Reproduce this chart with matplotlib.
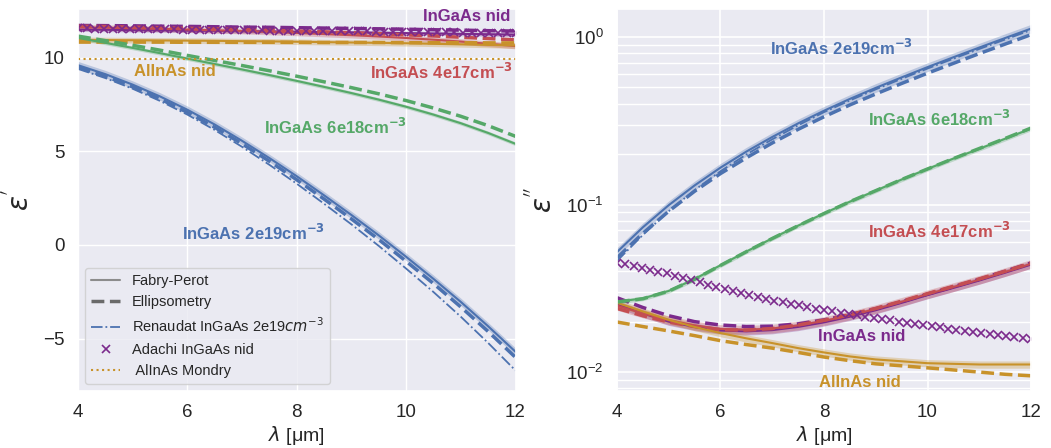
import matplotlib
matplotlib.use('Agg')

import matplotlib.pyplot as plt
import seaborn as sns
from matplotlib.lines import Line2D

# wavelength grid of the curves (um)
lam = [4.0, 4.5, 5.0, 5.5, 6.0, 6.5, 7.0, 7.5, 8.0, 8.5, 9.0, 9.5, 10.0, 10.5, 11.0, 11.5, 12.0]

# ---- real part eps' ----
re_nid_fp = [11.5, 11.49, 11.47, 11.46, 11.44, 11.43, 11.41, 11.4, 11.38, 11.36, 11.35, 11.33, 11.31, 11.29, 11.27, 11.25, 11.23]
re_nid_el = [11.72, 11.71, 11.7, 11.68, 11.67, 11.65, 11.63, 11.62, 11.6, 11.58, 11.56, 11.54, 11.52, 11.49, 11.47, 11.44, 11.42]
re_4e17_fp = [11.62, 11.6, 11.57, 11.54, 11.5, 11.46, 11.42, 11.37, 11.32, 11.26, 11.2, 11.13, 11.05, 10.96, 10.86, 10.74, 10.62]
re_4e17_el = [11.68, 11.66, 11.63, 11.6, 11.57, 11.54, 11.5, 11.46, 11.42, 11.38, 11.33, 11.28, 11.22, 11.16, 11.09, 11.02, 10.95]
re_6e18_fp = [11.05, 10.79, 10.52, 10.24, 9.95, 9.66, 9.37, 9.07, 8.76, 8.44, 8.11, 7.76, 7.38, 6.96, 6.5, 5.98, 5.4]
re_6e18_el = [11.15, 10.91, 10.66, 10.4, 10.12, 9.85, 9.58, 9.3, 9.01, 8.71, 8.4, 8.07, 7.71, 7.31, 6.87, 6.37, 5.8]
re_2e19_fp = [9.6, 9.12, 8.56, 7.93, 7.22, 6.43, 5.56, 4.64, 3.67, 2.65, 1.6, 0.51, -0.63, -1.81, -3.04, -4.34, -5.7]
re_2e19_el = [9.5, 9.01, 8.44, 7.8, 7.08, 6.28, 5.4, 4.47, 3.48, 2.45, 1.39, 0.29, -0.87, -2.06, -3.31, -4.62, -6.0]
re_2e19_ren = [9.4, 8.91, 8.34, 7.69, 6.96, 6.14, 5.24, 4.28, 3.27, 2.2, 1.1, -0.05, -1.26, -2.51, -3.83, -5.23, -6.7]
re_alinas_fp = [10.95, 10.94, 10.93, 10.92, 10.91, 10.9, 10.88, 10.87, 10.85, 10.83, 10.81, 10.79, 10.77, 10.74, 10.71, 10.68, 10.65]
re_alinas_el = [10.83, 10.83, 10.83, 10.83, 10.82, 10.82, 10.82, 10.82, 10.82, 10.81, 10.81, 10.81, 10.8, 10.8, 10.8, 10.79, 10.79]
mondry_lam = [4.0, 12.0]
mondry_re = [9.95, 9.95]

# ---- imaginary part eps'' ----
im_nid_fp = [0.0255, 0.0224, 0.0200, 0.0186, 0.0177, 0.0175, 0.0178, 0.0186, 0.0198, 0.0214, 0.0234, 0.0259, 0.0288, 0.0318, 0.0352, 0.0392, 0.0438]
im_nid_el = [0.0278, 0.0243, 0.0217, 0.0200, 0.0191, 0.0187, 0.0188, 0.0194, 0.0205, 0.0220, 0.0239, 0.0263, 0.0292, 0.0323, 0.0358, 0.0400, 0.0448]
im_4e17_fp = [0.0249, 0.0224, 0.0204, 0.0190, 0.0181, 0.0179, 0.0182, 0.0190, 0.0202, 0.0218, 0.0238, 0.0263, 0.0292, 0.0322, 0.0356, 0.0396, 0.0443]
im_4e17_el = [0.0240, 0.0217, 0.0199, 0.0187, 0.0179, 0.0178, 0.0182, 0.0191, 0.0204, 0.0220, 0.0240, 0.0265, 0.0294, 0.0325, 0.0360, 0.0400, 0.0447]
im_6e18_fp = [0.0263, 0.0275, 0.0305, 0.0359, 0.0434, 0.0524, 0.0628, 0.0748, 0.0885, 0.104, 0.121, 0.141, 0.163, 0.188, 0.215, 0.247, 0.284]
im_6e18_el = [0.0262, 0.0274, 0.0304, 0.0358, 0.0433, 0.0523, 0.0627, 0.0747, 0.0884, 0.104, 0.121, 0.141, 0.163, 0.188, 0.216, 0.248, 0.286]
im_2e19_fp = [0.052, 0.0731, 0.0991, 0.130, 0.166, 0.207, 0.253, 0.305, 0.363, 0.427, 0.497, 0.574, 0.661, 0.757, 0.865, 0.986, 1.122]
im_2e19_el = [0.048, 0.0673, 0.0912, 0.120, 0.153, 0.190, 0.233, 0.281, 0.334, 0.393, 0.457, 0.528, 0.608, 0.696, 0.796, 0.907, 1.032]
im_2e19_ren = [0.046, 0.0658, 0.0912, 0.122, 0.158, 0.199, 0.245, 0.297, 0.356, 0.418, 0.487, 0.563, 0.648, 0.742, 0.848, 0.966, 1.10]
im_alinas_fp = [0.0259, 0.0230, 0.0205, 0.0186, 0.0171, 0.0159, 0.0149, 0.0139, 0.0131, 0.0124, 0.0119, 0.0116, 0.0113, 0.0112, 0.0111, 0.0111, 0.0111]
im_alinas_el = [0.0199, 0.0187, 0.0176, 0.0165, 0.0154, 0.0146, 0.0139, 0.0131, 0.0123, 0.0117, 0.0112, 0.0109, 0.0106, 0.0103, 0.0100, 0.0097, 0.0095]

# ---- Adachi InGaAs nid model points ----
adachi_lam = [4.00, 4.16, 4.32, 4.48, 4.64, 4.80, 4.96, 5.12, 5.28, 5.44, 5.60, 5.76, 5.92,
              6.08, 6.24, 6.40, 6.56, 6.72, 6.88, 7.04, 7.20, 7.36, 7.52, 7.68, 7.84, 8.00,
              8.16, 8.32, 8.48, 8.64, 8.80, 8.96, 9.12, 9.28, 9.44, 9.60, 9.76, 9.92,
              10.08, 10.24, 10.40, 10.56, 10.72, 10.88, 11.04, 11.20, 11.36, 11.52, 11.68, 11.84, 12.00]
adachi_re = [11.56, 11.56, 11.55, 11.55, 11.54, 11.54, 11.53, 11.53, 11.52, 11.52, 11.51, 11.51, 11.50,
             11.50, 11.49, 11.49, 11.48, 11.48, 11.47, 11.47, 11.46, 11.46, 11.45, 11.45, 11.44, 11.44,
             11.43, 11.43, 11.42, 11.42, 11.41, 11.41, 11.40, 11.40, 11.39, 11.39, 11.38, 11.38,
             11.37, 11.37, 11.36, 11.36, 11.35, 11.35, 11.34, 11.34, 11.33, 11.33, 11.32, 11.32, 11.31]
adachi_im = [0.0450, 0.0439, 0.0428, 0.0418, 0.0408, 0.0398, 0.0388, 0.0376, 0.0365, 0.0354, 0.0343, 0.0332, 0.0322,
             0.0314, 0.0305, 0.0297, 0.0289, 0.0281, 0.0274, 0.0267, 0.0261, 0.0256, 0.0250, 0.0245, 0.0239, 0.0234,
             0.0230, 0.0226, 0.0222, 0.0218, 0.0214, 0.0211, 0.0207, 0.0204, 0.0200, 0.0197, 0.0194, 0.0190,
             0.0188, 0.0185, 0.0182, 0.0179, 0.0177, 0.0174, 0.0171, 0.0169, 0.0166, 0.0164, 0.0162, 0.0160, 0.0158]

PURPLE = '#7b2a8c'
RED = '#c44e52'
GREEN = '#55a868'
BLUE = '#4c72b0'
GOLD = '#c8922a'

sns.set_theme(style='darkgrid')
plt.rcParams['font.family'] = ['Liberation Sans', 'DejaVu Sans']
plt.rcParams['mathtext.fontset'] = 'dejavusans'

fig = plt.figure(figsize=(10.51, 4.48), dpi=100)
ax1 = fig.add_axes([0.0742, 0.127, 0.4163, 0.853])
ax2 = fig.add_axes([0.587, 0.127, 0.394, 0.853])

# (color, fabry-perot, ellipsometry, band) for each sample
re_sets = [
    (PURPLE, re_nid_fp, re_nid_el, 0.10),
    (RED, re_4e17_fp, re_4e17_el, 0.15),
    (GOLD, re_alinas_fp, re_alinas_el, 0.15),
    (GREEN, re_6e18_fp, re_6e18_el, 0.10),
    (BLUE, re_2e19_fp, re_2e19_el, 0.20),
]
im_sets = [
    (PURPLE, im_nid_fp, im_nid_el, 0.05),
    (RED, im_4e17_fp, im_4e17_el, 0.06),
    (GOLD, im_alinas_fp, im_alinas_el, 0.05),
    (GREEN, im_6e18_fp, im_6e18_el, 0.03),
    (BLUE, im_2e19_fp, im_2e19_el, 0.06),
]

for color, fp, el, band in re_sets:
    ax1.fill_between(lam, [v - band for v in fp], [v + band for v in fp], color=color, alpha=0.3, lw=0)
    ax1.plot(lam, fp, '-', color=color, lw=1.5)
    ax1.plot(lam, el, '--', color=color, lw=2.5)
ax1.plot(lam, re_2e19_ren, '-.', color=BLUE, lw=1.3)
ax1.plot(adachi_lam, adachi_re, 'x', color=PURPLE, ms=6, mew=1.2)
ax1.plot(mondry_lam, mondry_re, ':', color=GOLD, lw=1.5)

for color, fp, el, band in im_sets:
    ax2.fill_between(lam, [v * (1 - band) for v in fp], [v * (1 + band) for v in fp], color=color, alpha=0.3, lw=0)
    ax2.plot(lam, fp, '-', color=color, lw=1.5)
    ax2.plot(lam, el, '--', color=color, lw=2.5)
ax2.plot(lam, im_2e19_ren, '-.', color=BLUE, lw=1.3)
ax2.plot(adachi_lam, adachi_im, 'x', color=PURPLE, ms=6, mew=1.2)

ax1.set_xlim(4, 12)
ax1.set_ylim(-7.8, 12.6)
ax1.set_yticks([-5, 0, 5, 10])
ax2.set_xlim(4, 12)
ax2.set_yscale('log')
ax2.set_ylim(0.0077, 1.47)
ax2.grid(True, which='minor', color='white', lw=1.0)
ax2.grid(True, which='major', color='white', lw=1.2)

for ax in (ax1, ax2):
    ax.set_xticks([4, 6, 8, 10, 12])
    ax.tick_params(labelsize=13.5)
    ax.set_xlabel(r'$\lambda$ [μm]', fontsize=14, labelpad=2)
ax2.tick_params(axis='y', which='minor', left=False, labelleft=False)
ax1.set_ylabel(r"$\epsilon^{'}$", fontsize=20)
ax2.set_ylabel(r"$\epsilon^{''}$", fontsize=20)
ax1.yaxis.set_label_coords(-0.1, 0.5)
ax2.yaxis.set_label_coords(-0.145, 0.5)

tk = dict(fontsize=12, fontweight='bold', va='center')
ax1.text(11.9, 12.19, 'InGaAs nid', color=PURPLE, ha='right', **tk)
ax1.text(11.95, 9.25, r'InGaAs 4e17cm$^{\mathbf{-3}}$', color=RED, ha='right', **tk)
ax1.text(5.78, 9.25, 'AlInAs nid', color=GOLD, ha='center', **tk)
ax1.text(8.71, 6.31, r'InGaAs 6e18cm$^{\mathbf{-3}}$', color=GREEN, ha='center', **tk)
ax1.text(7.2, 0.64, r'InGaAs 2e19cm$^{\mathbf{-3}}$', color=BLUE, ha='center', **tk)

ax2.text(8.34, 0.859, r'InGaAs 2e19cm$^{\mathbf{-3}}$', color=BLUE, ha='center', **tk)
ax2.text(10.24, 0.323, r'InGaAs 6e18cm$^{\mathbf{-3}}$', color=GREEN, ha='center', **tk)
ax2.text(10.24, 0.0697, r'InGaAs 4e17cm$^{\mathbf{-3}}$', color=RED, ha='center', **tk)
ax2.text(8.73, 0.0164, 'InGaAs nid', color=PURPLE, ha='center', **tk)
ax2.text(8.70, 0.0087, 'AlInAs nid', color=GOLD, ha='center', **tk)

handles = [
    Line2D([], [], color='#8c8c8c', lw=1.5, ls='-'),
    Line2D([], [], color='#6a6a6a', lw=2.5, ls='--'),
    Line2D([], [], color=BLUE, lw=1.3, ls='-.'),
    Line2D([], [], color=PURPLE, ls='none', marker='x', ms=6, mew=1.2),
    Line2D([], [], color=GOLD, lw=1.5, ls=':'),
]
labels = ['Fabry-Perot', 'Ellipsometry', r'Renaudat InGaAs 2e19$cm^{-3}$', 'Adachi InGaAs nid', ' AlInAs Mondry']
ax1.legend(handles, labels, loc='lower left', fontsize=10.5, frameon=True)

fig.savefig('out.png', dpi=100)
